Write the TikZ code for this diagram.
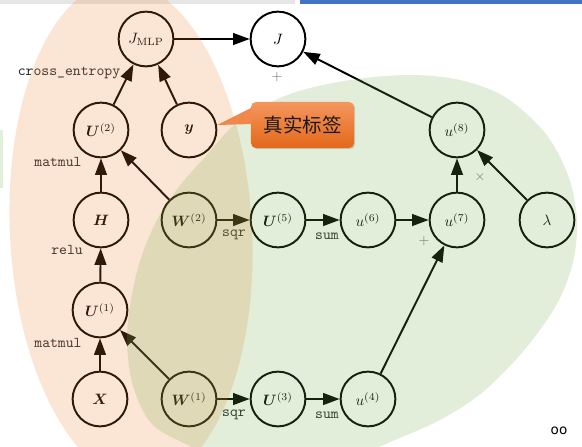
\documentclass[tikz,border=0pt]{standalone}
\usepackage{amsmath,bm}
\usepackage{fontspec}
\newfontfamily\cjk{Noto Sans CJK SC}
\newfontfamily\sansf{DejaVu Sans}
\usetikzlibrary{arrows.meta,shadows}
\definecolor{povl}{HTML}{ED7D31}
\definecolor{gnov}{HTML}{70AD47}
\definecolor{topgray}{HTML}{E7E6E6}
\definecolor{topblue}{HTML}{4472C4}
\definecolor{calltop}{HTML}{F4965E}
\definecolor{callbot}{HTML}{E3681A}
\begin{document}
\begin{tikzpicture}[x=0.6667pt,y=-0.6667pt,
  vnode/.style={circle,draw=black,line width=1.3pt,minimum size=36.5pt,inner sep=0pt,fill=white},
  arr/.style={-{Triangle[length=11pt,width=7.8pt]},line width=1.3pt},
  oplab/.style={font=\ttfamily,text=black!85,inner sep=1pt},
  sign/.style={text=black!55,font=\small,inner sep=1pt},
  overlay o/.style={fill=povl,fill opacity=0.2},
  overlay g/.style={fill=gnov,fill opacity=0.2},
  callbox/.style={rectangle,rounded corners=3.3pt,minimum width=68.7pt,minimum height=30.7pt,
     top color=calltop,bottom color=callbot,text=black!90,
     font=\cjk\fontsize{13}{15}\selectfont,
     drop shadow={shadow xshift=0.8pt,shadow yshift=-0.8pt,opacity=0.3}}]
\useasboundingbox (0,0) rectangle (582,446);
\fill[white] (0,0) rectangle (582,446);
% top bars and left strip
\fill[topgray] (0,0) rectangle (295,3.5);
\fill[topblue] (300,0) rectangle (582,4);
\fill[gnov!20] (0,130) rectangle (3,188);

% nodes
\node[vnode] (jmlp) at (146,39) {$J_{\mathrm{MLP}}$};
\node[vnode] (j) at (278,39) {$J$};
\node[vnode] (u2) at (101,130) {$\bm{U}^{(2)}$};
\node[vnode] (yy) at (189,130) {$\bm{y}$};
\node[vnode] (hh) at (101,220) {$\bm{H}$};
\node[vnode] (w2) at (189,220) {$\bm{W}^{(2)}$};
\node[vnode] (u5) at (278,220) {$\bm{U}^{(5)}$};
\node[vnode] (u6) at (368,220) {$u^{(6)}$};
\node[vnode] (u7) at (457,220) {$u^{(7)}$};
\node[vnode] (lam) at (547,220) {$\lambda$};
\node[vnode] (u8) at (457,130) {$u^{(8)}$};
\node[vnode] (u1) at (100,310) {$\bm{U}^{(1)}$};
\node[vnode] (xx) at (100,399) {$\bm{X}$};
\node[vnode] (w1) at (189,399) {$\bm{W}^{(1)}$};
\node[vnode] (u3) at (278,399) {$\bm{U}^{(3)}$};
\node[vnode] (u4) at (368,399) {$u^{(4)}$};

% edges
\draw[arr] (jmlp) -- (j);
\draw[arr] (u2) -- (jmlp);
\draw[arr] (yy) -- (jmlp);
\draw[arr] (hh) -- (u2);
\draw[arr] (w2) -- (u2);
\draw[arr] (u1) -- (hh);
\draw[arr] (xx) -- (u1);
\draw[arr] (w1) -- (u1);
\draw[arr] (w2) -- (u5);
\draw[arr] (u5) -- (u6);
\draw[arr] (u6) -- (u7);
\draw[arr] (w1) -- (u3);
\draw[arr] (u3) -- (u4);
\draw[arr] (u4) -- (u7);
\draw[arr] (u7) -- (u8);
\draw[arr] (lam) -- (u8);
\draw[arr] (u8) -- (j);

% operation labels
\node[oplab] (lce) at (69,73) {cross\_entropy};
\node[oplab] (lmm2) at (58,162) {matmul};
\node[oplab] (lrelu) at (67,250) {relu};
\node[oplab] (lmm1) at (58,343) {matmul};
\node[oplab] (lsqr2) at (234,235) {sqr};
\node[oplab] (lsqr1) at (234,415) {sqr};
\node[oplab] (lsum2) at (327,236) {sum};
\node[oplab] (lsum1) at (327,415) {sum};
\node[sign] (plusj) at (277,77) {$+$};
\node[sign] (times8) at (480,177) {$\times$};
\node[sign] (plus7) at (424,241) {$+$};

% overlays
\fill[overlay o, rotate around={3:(131,232)}] (131,232) ellipse [x radius=121, y radius=250];
\fill[overlay g] plot[smooth cycle, tension=0.55] coordinates {
  (410,75) (460,80) (505,97) (545,133) (568,175) (577,220) (573,262) (559,300)
  (537,334) (510,366) (478,396) (440,420) (395,440) (340,462) (285,472) (232,464)
  (190,446) (152,424) (133,386) (127,342) (131,300) (141,258) (157,220) (178,188)
  (205,157) (240,120) (290,94) (350,80)};

% callout
\fill[calltop!70!callbot] (217,125) -- (253,107) -- (253,124) -- cycle;
\node[callbox] (call) at (302.5,125) {真实标签};

\node[font=\sansf\fontsize{9}{10}\selectfont, inner sep=0pt] (oo) at (559,431) {oo};
\end{tikzpicture}
\end{document}
